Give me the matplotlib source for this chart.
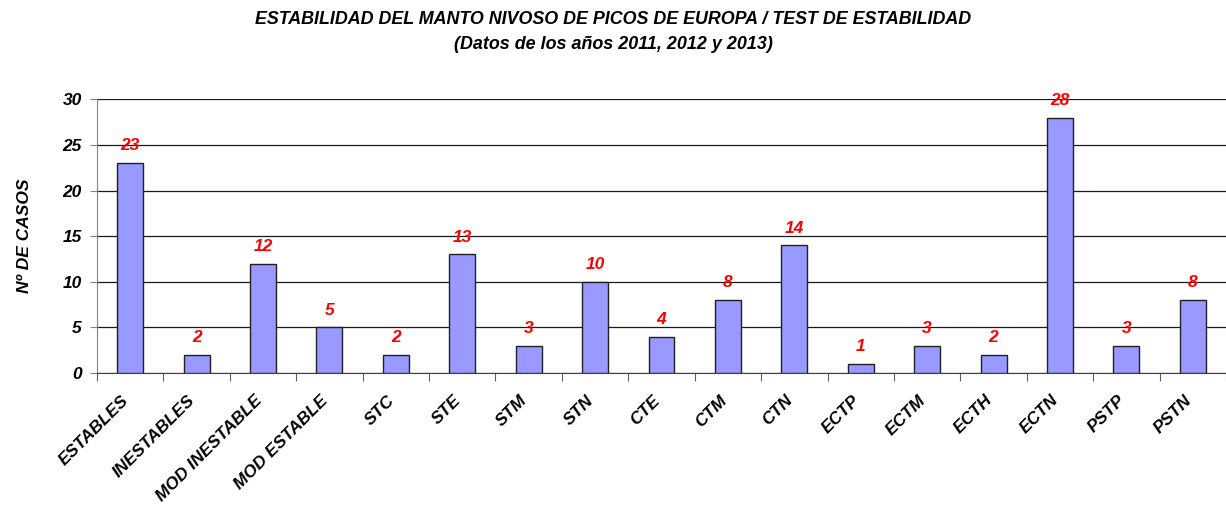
import matplotlib
matplotlib.use("Agg")
import matplotlib.pyplot as plt
from matplotlib import font_manager
from matplotlib.transforms import ScaledTranslation

categorias = ["ESTABLES", "INESTABLES", "MOD INESTABLE", "MOD ESTABLE", "STC", "STE",
              "STM", "STN", "CTE", "CTM", "CTN", "ECTP", "ECTM", "ECTH", "ECTN",
              "PSTP", "PSTN"]
casos = [23, 2, 12, 5, 2, 13, 3, 10, 4, 8, 14, 1, 3, 2, 28, 3, 8]
yticks = [0, 5, 10, 15, 20, 25, 30]

names = {f.name for f in font_manager.fontManager.ttflist}
narrow = "Liberation Sans Narrow" if "Liberation Sans Narrow" in names else "Liberation Sans"

plt.rcParams["font.family"] = ["Liberation Sans", "DejaVu Sans"]
bi = dict(fontweight="bold", fontstyle="italic")

fig = plt.figure(figsize=(12.26, 5.09), dpi=100)
ax = fig.add_axes([0.0791, 0.267, 0.9209, 0.538])

x = list(range(len(categorias)))
ax.bar(x, casos, width=0.39, color="#9999FF", edgecolor="#202020", linewidth=1.0, zorder=3)

for xi, v in zip(x, casos):
    ax.annotate(str(v), (xi, v), xytext=(0, 7), textcoords="offset points",
                ha="center", va="bottom", color="#FF0000", fontsize=12.5, zorder=4, **bi)

ax.set_xlim(-0.5, len(categorias) - 0.5)
ax.set_ylim(0, 30)
ax.set_yticks(yticks)
ax.set_yticklabels([str(t) for t in yticks], fontsize=12.5, **bi)
ax.yaxis.grid(True, color="#1a1a1a", linewidth=0.9, zorder=0)
ax.tick_params(axis="y", length=5, width=0.8, pad=6, direction="out", color="#808080")

ax.set_xticks(x)
ax.set_xticklabels(categorias, rotation=45, ha="right", rotation_mode="anchor",
                   fontsize=12.5, **bi)
ax.tick_params(axis="x", length=0, pad=14)
shift = ScaledTranslation(-9 / 100, 0, fig.dpi_scale_trans)
for lbl in ax.get_xticklabels():
    lbl.set_transform(lbl.get_transform() + shift)
ax.set_xticks([i - 0.5 for i in range(len(categorias) + 1)], minor=True)
ax.tick_params(axis="x", which="minor", length=6, width=0.8, direction="out", color="#606060")

for side in ["top", "right"]:
    ax.spines[side].set_visible(False)
ax.spines["left"].set_color("#808080")
ax.spines["bottom"].set_color("#404040")

ax.set_ylabel("Nº DE CASOS", fontsize=12.5, labelpad=22, **bi)

fig.text(0.5, 0.962, "ESTABILIDAD DEL MANTO NIVOSO DE PICOS DE EUROPA / TEST DE ESTABILIDAD",
         ha="center", va="center", fontsize=12.9, family=[narrow, "DejaVu Sans"], **bi)
fig.text(0.5, 0.912, "(Datos de los años 2011, 2012 y 2013)",
         ha="center", va="center", fontsize=12.9, family=[narrow, "DejaVu Sans"], **bi)

fig.savefig("out.png", dpi=100)
